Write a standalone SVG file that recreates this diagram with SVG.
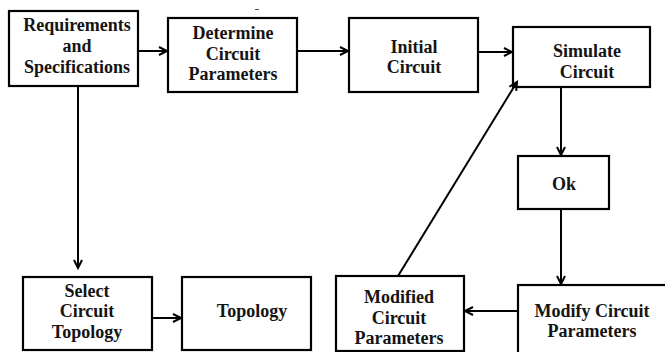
<svg xmlns="http://www.w3.org/2000/svg" width="665" height="352" viewBox="0 0 665 352">
<defs>
<marker id="arr" markerUnits="userSpaceOnUse" markerWidth="12" markerHeight="12" refX="9" refY="5" orient="auto">
<path d="M1,1 L9,5 L1,9" fill="none" stroke="#000" stroke-width="2"/>
</marker>
<style>
rect{fill:#fff;stroke:#000;stroke-width:2.2}
text{font-family:'Liberation Serif','DejaVu Serif',serif;font-weight:bold;font-size:18px;fill:#141414;text-anchor:middle}
.c line{stroke:#000;stroke-width:2;marker-end:url(#arr)}
</style>
</defs>
<rect x="0" y="0" width="665" height="352" style="fill:#fff;stroke:none"/>
<line x1="255" y1="9.5" x2="259" y2="9.5" stroke="#556" stroke-width="1"/>
<g font-family="Liberation Serif, DejaVu Serif, serif">
<g id="n1"><rect x="9" y="11" width="129" height="75"/><text x="77" y="31">Requirements</text><text x="77" y="52">and</text><text x="77" y="73">Specifications</text></g>
<g id="n2"><rect x="168" y="18" width="129" height="74"/><text x="233" y="39">Determine</text><text x="233" y="60">Circuit</text><text x="233" y="80">Parameters</text></g>
<g id="n3"><rect x="349" y="18" width="129" height="74"/><text x="414" y="53">Initial</text><text x="414" y="73">Circuit</text></g>
<g id="n4"><rect x="513" y="27" width="137" height="60"/><text x="587" y="57">Simulate</text><text x="587" y="78">Circuit</text></g>
<g id="n5"><rect x="518" y="156" width="91" height="53"/><text x="564" y="190">Ok</text></g>
<g id="n6"><rect x="518" y="285" width="160" height="80"/><text x="592" y="317">Modify Circuit</text><text x="592" y="337">Parameters</text></g>
<g id="n7"><rect x="336" y="276" width="128" height="75"/><text x="399" y="303">Modified</text><text x="399" y="324">Circuit</text><text x="399" y="344">Parameters</text></g>
<g id="n8"><rect x="23" y="277" width="129" height="73"/><text x="87" y="297">Select</text><text x="87" y="317">Circuit</text><text x="87" y="338">Topology</text></g>
<g id="n9"><rect x="182" y="277" width="129" height="73"/><text x="252" y="317">Topology</text></g>
</g>
<g class="c" id="connectors">
<line x1="138" y1="51" x2="167" y2="51"/>
<line x1="297" y1="51" x2="348" y2="51"/>
<line x1="478" y1="52" x2="512" y2="52"/>
<line x1="78" y1="86" x2="78" y2="268"/>
<line x1="152" y1="318" x2="181" y2="318"/>
<line x1="561" y1="87" x2="561" y2="155"/>
<line x1="561" y1="209" x2="561" y2="284"/>
<line x1="517" y1="311" x2="465" y2="311"/>
<line x1="398" y1="276" x2="517" y2="82"/>
</g>
</svg>
